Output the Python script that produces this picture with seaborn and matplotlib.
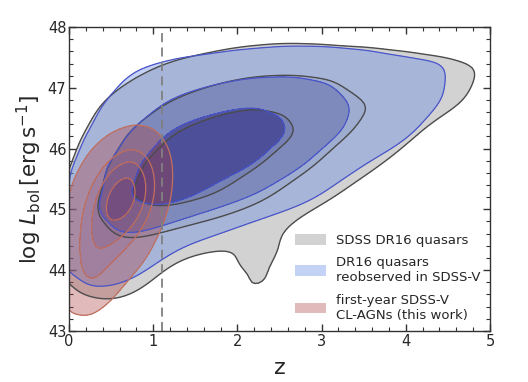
import numpy as np
import pandas as pd
import matplotlib
matplotlib.use("Agg")
import matplotlib.pyplot as plt
from matplotlib.colors import ListedColormap
from matplotlib.patches import Patch
from matplotlib.ticker import MultipleLocator
import seaborn as sns

# ---------------- data (weighted grids) ----------------
z_grid = [0.25, 0.75, 1.25, 1.75, 2.25, 2.75, 3.25, 3.75, 4.25, 4.75]
L_grid = [47.75, 47.25, 46.75, 46.25, 45.75, 45.25, 44.75, 44.25, 43.75, 43.25]

dr16_counts = [
    [0.0, 0.0, 0.0, 0.0, 0.2, 0.2, 0.0, 0.0, 0.0, 0.0],
    [0.0, 0.4, 1.4, 2.8, 3.8, 3.8, 3.2, 2.2, 1.5, 1.0],
    [0.2, 2.2, 5.0, 8.0, 10.0, 9.0, 5.0, 4.5, 1.8, 0.6],
    [0.5, 5.0, 11.0, 15.0, 14.0, 11.0, 4.5, 2.8, 0.0, 0.0],
    [1.0, 9.0, 16.0, 15.0, 11.0, 6.0, 2.0, 0.5, 0.0, 0.0],
    [1.5, 12.0, 15.0, 11.0, 6.0, 2.0, 0.5, 0.0, 0.0, 0.0],
    [2.5, 6.0, 4.5, 3.0, 1.5, 0.2, 0.0, 0.0, 0.0, 0.0],
    [2.5, 3.5, 0.6, 0.2, 1.5, 0.0, 0.0, 0.0, 0.0, 0.0],
    [1.0, 1.2, 0.0, 0.0, 1.3, 0.0, 0.0, 0.0, 0.0, 0.0],
    [0.4, 0.3, 0.0, 0.0, 0.0, 0.0, 0.0, 0.0, 0.0, 0.0],
]

reobs_counts = [
    [0.0, 0.0, 0.0, 0.0, 0.2, 0.3, 0.2, 0.1, 0.0, 0.0],
    [0.0, 1.1, 2.0, 3.0, 3.8, 3.8, 3.0, 2.0, 1.5, 0.3],
    [0.2, 2.5, 5.5, 8.5, 10.0, 8.5, 4.5, 4.0, 1.3, 0.1],
    [0.6, 5.0, 12.0, 15.0, 13.0, 9.5, 4.0, 2.5, 0.2, 0.0],
    [1.2, 9.5, 16.0, 14.0, 10.0, 5.0, 1.5, 0.3, 0.0, 0.0],
    [1.5, 12.0, 14.0, 8.0, 4.5, 1.5, 0.4, 0.0, 0.0, 0.0],
    [2.3, 6.0, 3.5, 1.3, 0.3, 0.1, 0.0, 0.0, 0.0, 0.0],
    [2.2, 2.8, 0.3, 0.2, 0.1, 0.0, 0.0, 0.0, 0.0, 0.0],
    [1.0, 0.8, 0.1, 0.0, 0.0, 0.0, 0.0, 0.0, 0.0, 0.0],
    [0.4, 0.2, 0.0, 0.0, 0.0, 0.0, 0.0, 0.0, 0.0, 0.0],
]

z_cl = [0.1, 0.3, 0.5, 0.7, 0.9, 1.1]
L_cl = [46.0, 45.6, 45.2, 44.8, 44.4, 44.0, 43.6]
cl_counts = [
    [0.0, 0.3, 0.8, 1.4, 1.0, 0.3],
    [0.3, 1.2, 3.0, 4.2, 2.5, 0.8],
    [0.8, 2.5, 5.0, 5.8, 3.0, 0.8],
    [1.3, 3.0, 4.0, 3.5, 1.8, 0.3],
    [1.5, 2.8, 2.5, 1.5, 0.6, 0.0],
    [1.5, 2.2, 1.2, 0.5, 0.1, 0.0],
    [1.0, 1.2, 0.4, 0.0, 0.0, 0.0],
]

z_cut = 1.1
labels = ["SDSS DR16 quasars", "DR16 quasars\nreobserved in SDSS-V",
          "first-year SDSS-V\nCL-AGNs (this work)"]


def to_frame(zs, Ls, counts):
    zz, LL = np.meshgrid(zs, Ls)
    w = np.asarray(counts, dtype=float)
    df = pd.DataFrame({"z": zz.ravel(), "L": LL.ravel(), "w": w.ravel()})
    return df[df.w > 0]


df_dr16 = to_frame(z_grid, L_grid, dr16_counts)
df_reobs = to_frame(z_grid, L_grid, reobs_counts)
df_cl = to_frame(z_cl, L_cl, cl_counts)

# ---------------- styling ----------------
sns.set_style("ticks")
plt.rcParams["font.family"] = ["DejaVu Sans"]
plt.rcParams["mathtext.fontset"] = "dejavusans"

fig = plt.figure(figsize=(5.28, 3.82), dpi=100)
ax = fig.add_axes([0.131, 0.134, 0.797, 0.795])

gray_cmap = ListedColormap([(0.5, 0.5, 0.5, 0.35), (0.45, 0.45, 0.45, 0.42),
                            (0.4, 0.4, 0.4, 0.5)])
blue_cmap = ListedColormap([(88/255, 128/255, 231/255, 0.35),
                            (58/255, 82/255, 182/255, 0.5),
                            (23/255, 26/255, 138/255, 0.65)])
red_cmap = ListedColormap([(170/255, 60/255, 60/255, 0.35),
                           (150/255, 50/255, 70/255, 0.4),
                           (130/255, 40/255, 75/255, 0.45),
                           (110/255, 30/255, 80/255, 0.55)])

g_levels = [0.04, 0.28, 0.66]
b_levels = [0.05, 0.3, 0.66]
r_levels = [0.05, 0.33, 0.58, 0.86]

common = dict(x="z", y="L", weights="w", ax=ax, gridsize=200, cut=4)
bw_q = 0.62

sns.kdeplot(data=df_dr16, fill=True, levels=g_levels + [1], cmap=gray_cmap,
            bw_adjust=bw_q, **common)
sns.kdeplot(data=df_dr16, fill=False, levels=g_levels, color="#4d4d4d",
            linewidths=1.0, bw_adjust=bw_q, **common)
sns.kdeplot(data=df_reobs, fill=True, levels=b_levels + [1], cmap=blue_cmap,
            bw_adjust=bw_q, **common)
sns.kdeplot(data=df_reobs, fill=False, levels=b_levels, color="#4a55c8",
            linewidths=0.9, bw_adjust=bw_q, **common)
sns.kdeplot(data=df_cl, fill=True, levels=r_levels + [1], cmap=red_cmap,
            bw_adjust=0.8, **common)
sns.kdeplot(data=df_cl, fill=False, levels=r_levels, color="#c0705f",
            linewidths=0.9, bw_adjust=0.8, **common)

ax.axvline(z_cut, color="gray", ls=(0, (5, 3)), lw=1.3)

ax.set_xlim(0, 5)
ax.set_ylim(43, 48)
ax.xaxis.set_major_locator(MultipleLocator(1))
ax.xaxis.set_minor_locator(MultipleLocator(0.2))
ax.yaxis.set_major_locator(MultipleLocator(1))
ax.yaxis.set_minor_locator(MultipleLocator(0.2))
ax.tick_params(which="both", direction="in", top=True, right=True,
               color="#333333", labelsize=10.5, pad=2)
ax.tick_params(which="major", length=5, width=1)
ax.tick_params(which="minor", length=3, width=0.8)
for s in ax.spines.values():
    s.set_color("#333333")
    s.set_linewidth(1.0)

ax.set_xlabel("z", fontsize=16, labelpad=7)
ax.set_ylabel(r"$\log\,L_{\rm bol}\,[{\rm erg\,s^{-1}}]$", fontsize=15.5, labelpad=3)

handles = [Patch(facecolor=(0.5, 0.5, 0.5, 0.35), edgecolor="none"),
           Patch(facecolor=(88/255, 128/255, 231/255, 0.35), edgecolor="none"),
           Patch(facecolor=(170/255, 60/255, 60/255, 0.35), edgecolor="none")]
ax.legend(handles, labels, loc="lower right", frameon=False, fontsize=9.5,
          handlelength=2.3, handleheight=0.9, labelspacing=0.7,
          borderaxespad=0.3, bbox_to_anchor=(1.0, 0.0))

fig.savefig("out.png", dpi=100)
